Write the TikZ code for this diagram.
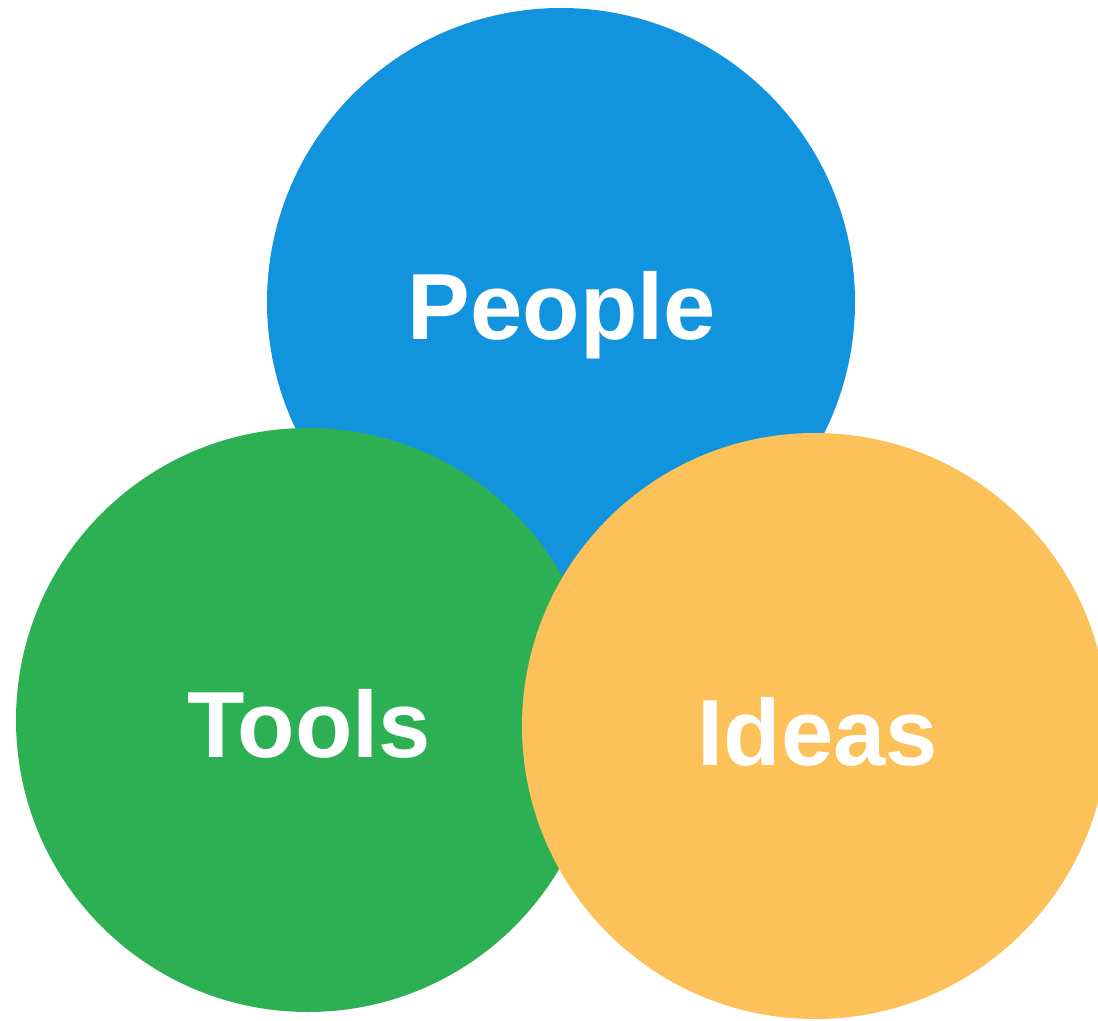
\documentclass[tikz,border=0pt]{standalone}
\usepackage{fontspec}
\setmainfont{Liberation Sans}
\definecolor{peopleblue}{RGB}{18,147,222}
\definecolor{toolsgreen}{RGB}{45,176,84}
\definecolor{ideasorange}{RGB}{253,193,90}
\begin{document}
\begin{tikzpicture}[x=0.5pt,y=-0.5pt,
  label/.style={text=white,anchor=base,inner sep=0pt,font=\fontsize{47}{56}\selectfont\bfseries}]

\useasboundingbox (0,0) rectangle (1098,1021);

\pgfmathsetmacro{\raggiop}{294}
\pgfmathsetmacro{\raggiot}{292}
\pgfmathsetmacro{\raggioi}{293}
\coordinate (op) at (561,302);
\coordinate (ot) at (308,720);
\coordinate (oi) at (815,726);

% back to front
\fill[peopleblue] (op) circle (\raggiop);
\fill[toolsgreen] (ot) circle (\raggiot);
\fill[ideasorange] (oi) circle (\raggioi);

\node[label] (people) at (562,340) {People};
\node[label] (tools) at (309,757) {Tools};
\node[label] (ideas) at (818,765) {Ideas};

\end{tikzpicture}
\end{document}
